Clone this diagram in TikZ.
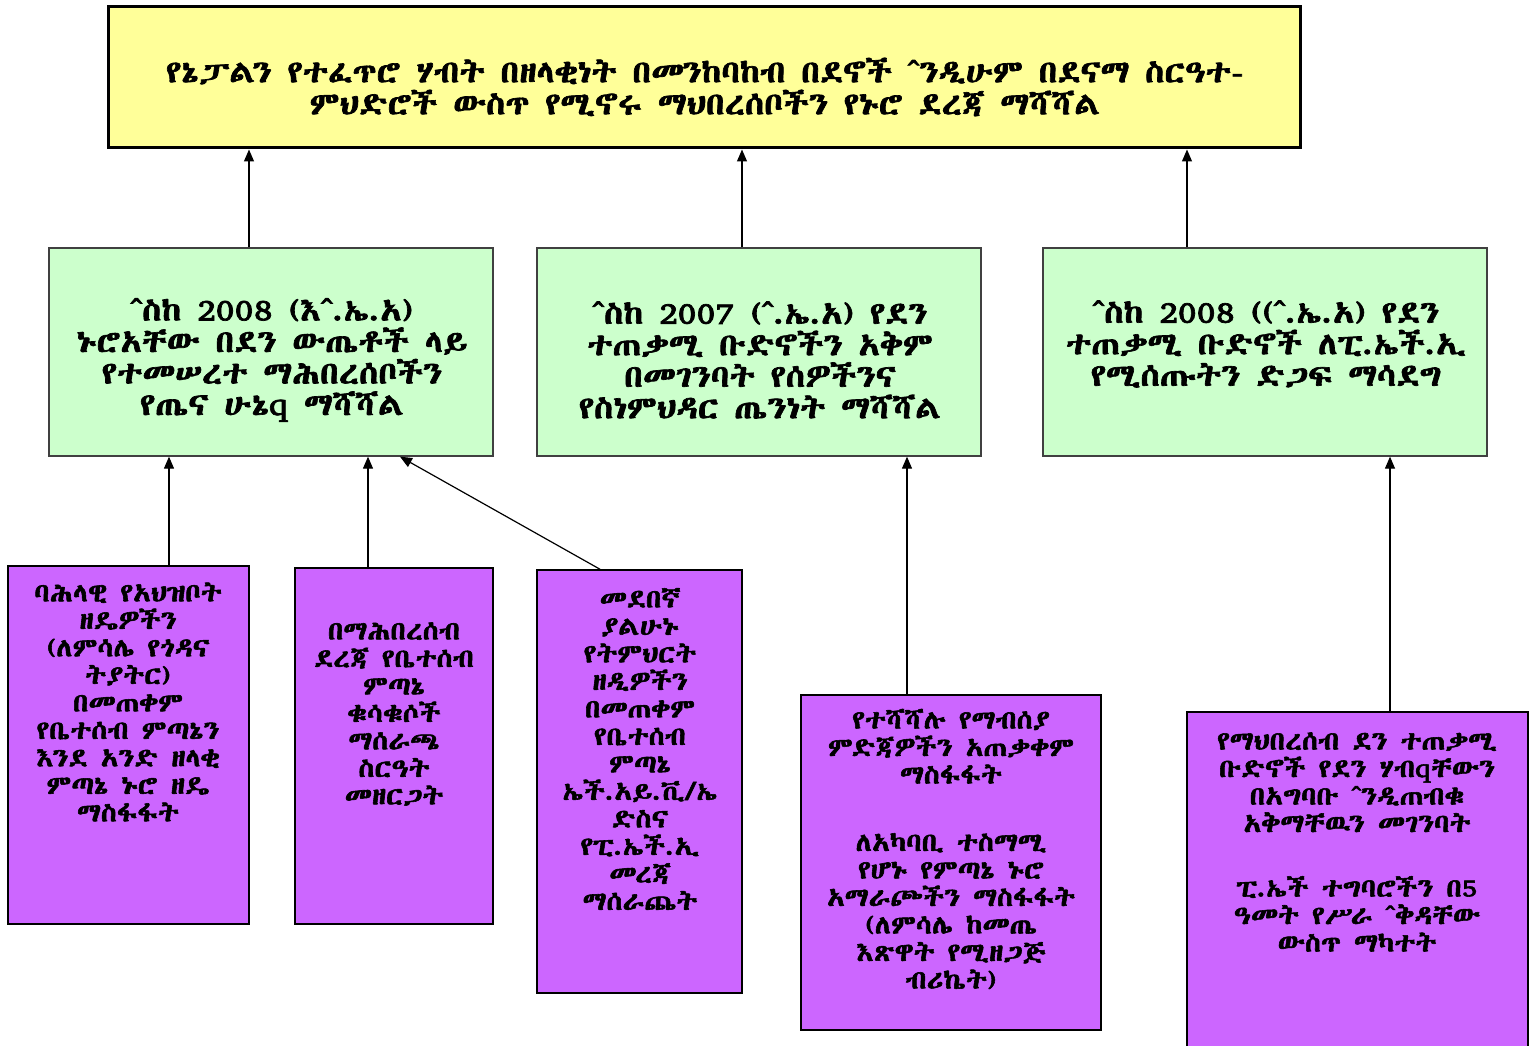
\documentclass[tikz,border=0pt]{standalone}
\usepackage{fontspec}
\usetikzlibrary{arrows.meta}
\IfFontExistsTF{Abyssinica SIL}{\newfontfamily\eth{Abyssinica SIL}[FakeBold=2.2,FakeStretch=1.13]}{%
 \IfFontExistsTF{FreeSerif}{\newfontfamily\eth{FreeSerif}[FakeBold=1.5]}{%
   \newfontfamily\eth{DejaVu Sans}}}
\definecolor{goalyellow}{HTML}{FFFF99}
\definecolor{outgreen}{HTML}{CCFFCC}
\definecolor{actpurple}{HTML}{CC66FF}
\definecolor{outline}{HTML}{404040}
\begin{document}
\begin{tikzpicture}[x=1pt,y=-1pt,
  goalbox/.style={draw=black,line width=3pt,fill=goalyellow,inner sep=0},
  outbox/.style={draw=outline,line width=1.3pt,fill=outgreen,inner sep=0},
  actbox/.style={draw=black,line width=1.5pt,fill=actpurple,inner sep=0},
  goaltext/.style={align=center,inner sep=0,font=\eth\fontsize{31}{32}\selectfont},
  outtext/.style={align=center,inner sep=0,font=\eth\fontsize{31}{31.5}\selectfont},
  acttext/.style={align=center,inner sep=0,font=\eth\fontsize{25.7}{27.5}\selectfont},
  arr/.style={-{Triangle[length=12pt,width=10pt]},line width=1.2pt}]
\useasboundingbox (0,0) rectangle (1535,1046);
\fill[white] (0,0) rectangle (1535,1046);
% boxes
\node[goalbox,minimum width=1192pt,minimum height=141pt] (goal) at (704,77.5) {};
\node[outbox,minimum width=444pt,minimum height=208pt] (oa) at (271,352) {};
\node[outbox,minimum width=444pt,minimum height=208pt] (ob) at (759,352) {};
\node[outbox,minimum width=444pt,minimum height=208pt] (oc) at (1265,352) {};
\node[actbox,minimum width=241pt,minimum height=358pt] (a1) at (128.5,745) {};
\node[actbox,minimum width=198pt,minimum height=356pt] (a2) at (394,746) {};
\node[actbox,minimum width=205pt,minimum height=423pt] (a3) at (639.5,781.5) {};
\node[actbox,minimum width=300pt,minimum height=335pt] (a4) at (951,862.5) {};
\node[actbox,minimum width=341pt,minimum height=340pt] (a5) at (1357.5,882) {};
% texts
\node[goaltext] (tgoal) at (705,87) {የኔፓልን የተፈጥሮ ሃብት በዘላቂነት በመንከባከብ በደኖች ˆንዲሁም በደናማ ስርዓተ-\\ምህድሮች ውስጥ የሚኖሩ ማህበረሰቦችን የኑሮ ደረጃ ማሻሻል};
\node[outtext] (toa) at (272,360) {ˆስከ 2008 (እˆ.ኤ.አ)\\ኑሮአቸው በደን ውጤቶች ላይ\\የተመሠረተ ማሕበረሰቦችን\\የጤና ሁኔq ማሻሻል};
\node[outtext] (tob) at (760,360) {ˆስከ 2007 (ˆ.ኤ.አ) የደን\\ተጠቃሚ ቡድኖችን አቅም\\በመገንባት የሰዎችንና\\የስነምህዳር ጤንነት ማሻሻል};
\node[outtext] (toc) at (1266,344) {ˆስከ 2008 ((ˆ.ኤ.አ) የደን\\ተጠቃሚ ቡድኖች ለፒ.ኤች.ኢ\\የሚሰጡትን ድጋፍ ማሳደግ};
\node[acttext] (ta1) at (128,702) {ባሕላዊ የአህዝቦት\\ዘዴዎችን\\(ለምሳሌ የጎዳና\\ትያትር)\\በመጠቀም\\የቤተሰብ ምጣኔን\\እንደ አንድ ዘላቂ\\ምጣኔ ኑሮ ዘዴ\\ማስፋፋት};
\node[acttext] (ta2) at (394,714) {በማሕበረሰብ\\ደረጃ የቤተሰብ\\ምጣኔ\\ቁሳቁሶች\\ማሰራጫ\\ስርዓት\\መዘርጋት};
\node[acttext] (ta3) at (640,749) {መደበኛ\\ያልሁኑ\\የትምህርት\\ዘዲዎችን\\በመጠቀም\\የቤተሰብ\\ምጣኔ\\ኤች.አይ.ቪ/ኤ\\ድስና\\የፒ.ኤች.ኢ\\መረጃ\\ማሰራጨት};
\node[acttext] (ta4) at (951,849) {የተሻሻሉ የማብሰያ\\ምድጃዎችን አጠቃቀም\\ማስፋፋት\\[40pt]ለአካባቢ ተስማሚ\\የሆኑ የምጣኔ ኑሮ\\አማራጮችን ማስፋፋት\\(ለምሳሌ ከመጤ\\እጽዋት የሚዘጋጅ\\ብሪኬት)};
\node[acttext] (ta5) at (1357,842) {የማህበረሰብ ደን ተጠቃሚ\\ቡድኖች የደን ሃብqቸውን\\በአግባቡ ˆንዲጠብቁ\\አቅማቸዉን መገንባት\\[37pt] ፒ.ኤች ተግባሮችን በ5\\ዓመት የሥራ ˆቅዳቸው\\ውስጥ ማካተት};
% connectors
\draw[arr] ([xshift=-22pt]oa.north) -- ([xshift=-22pt]oa.north |- goal.south);
\draw[arr] ([xshift=-17pt]ob.north) -- ([xshift=-17pt]ob.north |- goal.south);
\draw[arr] ([xshift=-78pt]oc.north) -- ([xshift=-78pt]oc.north |- goal.south);
\draw[arr] ([xshift=40.5pt]a1.north) -- ([xshift=40.5pt]a1.north |- oa.south);
\draw[arr] ([xshift=-26pt]a2.north) -- ([xshift=-26pt]a2.north |- oa.south);
\draw[arr] ([xshift=-39.5pt]a3.north) -- ([xshift=129pt]oa.south);
\draw[arr] ([xshift=-44pt]a4.north) -- ([xshift=-44pt]a4.north |- ob.south);
\draw[arr] ([xshift=32.5pt]a5.north) -- ([xshift=32.5pt]a5.north |- oc.south);
\end{tikzpicture}
\end{document}
